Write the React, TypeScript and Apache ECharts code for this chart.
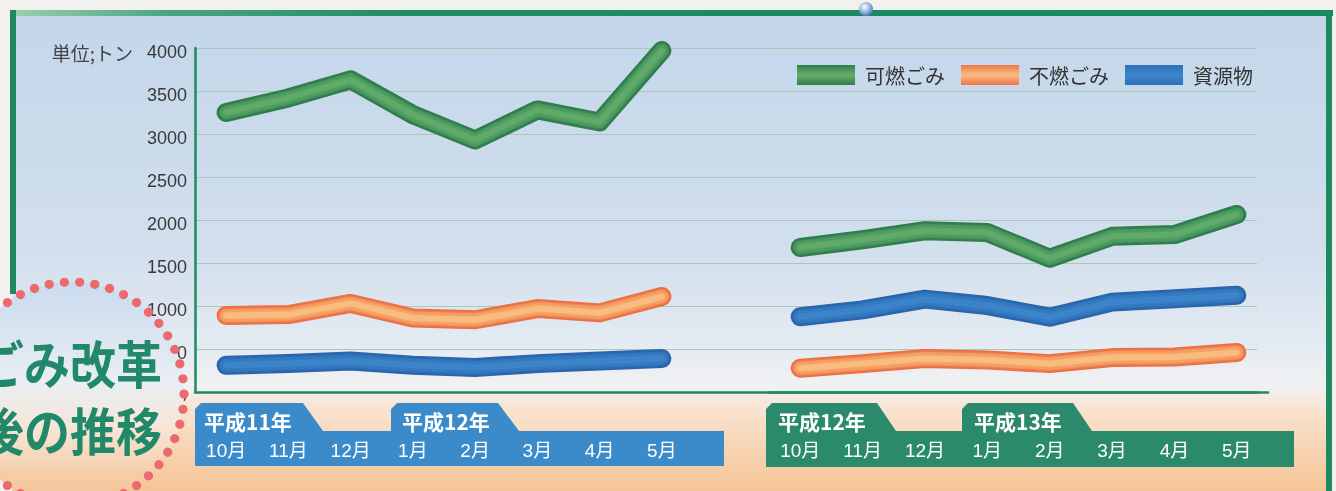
import React, { useEffect, useRef } from 'react';
import * as echarts from 'echarts';

// ---------- data ----------
const months = ['10月', '11月', '12月', '1月', '2月', '3月', '4月', '5月'];
const yearsBefore = ['平成11年', '平成12年'];
const yearsAfter = ['平成12年', '平成13年'];
const seriesNames = ['可燃ごみ', '不燃ごみ', '資源物'];
const unitLabel = '単位;トン';
const titleLines = ['ごみ改革', '後の推移'];

// 平成11年10月〜平成12年5月 (トン)
const burnableBefore = [3250, 3420, 3630, 3225, 2930, 3280, 3140, 3970];
const nonBurnableBefore = [890, 900, 1030, 860, 840, 970, 920, 1110];
const resourcesBefore = [310, 330, 360, 310, 285, 330, 360, 390];
// 平成12年10月〜平成13年5月 (トン)
const burnableAfter = [1680, 1770, 1875, 1855, 1555, 1810, 1830, 2065];
const nonBurnableAfter = [277, 330, 390, 372, 330, 400, 407, 460];
const resourcesAfter = [875, 955, 1080, 1005, 870, 1045, 1085, 1125];

const Y_MIN = 0;
const Y_MAX = 4000;
const Y_INTERVAL = 500;

// ---------- styles ----------
const tube: Record<string, string[]> = {
  '可燃ごみ': ['#2c7a4b', '#4a985d', '#62ab6b'],
  '不燃ごみ': ['#ec6c42', '#f4975f', '#f9c07f'],
  '資源物': ['#2a63aa', '#3276bd', '#3d86ca'],
};
const GREEN = '#1f8a62';
const LATIN = 'Liberation Sans, Noto Sans CJK JP, sans-serif';
const CJK = 'Noto Sans CJK JP, sans-serif';

const vGrad = (stops: [number, string][]) =>
  new echarts.graphic.LinearGradient(0, 0, 0, 1, stops.map(([offset, color]) => ({ offset, color })));

function tubeSeries(name: string, data: number[], axis: number) {
  const [edge, mid, light] = tube[name];
  const layers = [
    { n: name, w: 19, c: edge, z: 2, o: 1, b: 0 },
    { n: name + '_mid', w: 13, c: mid, z: 3, o: 1, b: 3 },
    { n: name + '_hl', w: 6, c: light, z: 4, o: 0.8, b: 4 },
  ];
  return layers.map((l) => ({
    type: 'line',
    name: l.n,
    xAxisIndex: axis,
    yAxisIndex: axis,
    data,
    z: l.z,
    symbol: 'none',
    silent: true,
    itemStyle: { color: edge },
    lineStyle: {
      width: l.w, color: l.c, opacity: l.o, cap: 'round', join: 'round',
      shadowBlur: l.b, shadowColor: l.b ? l.c : 'transparent',
    },
    emphasis: { disabled: true },
  }));
}

function buildOption() {
  const series: any[] = [
    ...tubeSeries(seriesNames[0], burnableBefore, 1),
    ...tubeSeries(seriesNames[1], nonBurnableBefore, 1),
    ...tubeSeries(seriesNames[2], resourcesBefore, 1),
    ...tubeSeries(seriesNames[0], burnableAfter, 2),
    ...tubeSeries(seriesNames[2], resourcesAfter, 2),
    ...tubeSeries(seriesNames[1], nonBurnableAfter, 2),
  ];

  const legendSwatch: Record<string, any> = {
    '可燃ごみ': vGrad([[0, '#2c8048'], [0.5, '#6aac6c'], [1, '#2c8048']]),
    '不燃ごみ': vGrad([[0, '#ef7448'], [0.5, '#f9bf82'], [1, '#ef7448']]),
    '資源物': vGrad([[0, '#2d6fb8'], [0.5, '#3f86c9'], [1, '#2d6fb8']]),
  };

  const monthAxis = (grid: number) => ({
    type: 'category',
    gridIndex: grid,
    data: months,
    boundaryGap: true,
    z: 10,
    axisLine: { show: grid === 2, lineStyle: { color: GREEN, width: 2.5 } },
    axisTick: { show: false },
    splitLine: { show: false },
    axisLabel: {
      color: '#ffffff',
      fontSize: 19,
      fontFamily: LATIN,
      margin: 58,
      verticalAlign: 'middle',
      interval: 0,
    },
  });

  // decorative circle dots
  const cx = 72, cy = 394, r = 112;
  const dots: any[] = [];
  const nDots = 46;
  for (let i = 0; i < nDots; i++) {
    const a = (i / nDots) * Math.PI * 2;
    dots.push({
      type: 'circle',
      shape: { cx: cx + r * Math.cos(a), cy: cy + r * Math.sin(a), r: 4.6 },
      style: { fill: '#eb6a6e' },
      z: 52,
      silent: true,
    });
  }

  const graphic: any[] = [
    { type: 'rect', shape: { x: 0, y: 0, width: 1336, height: 491 }, style: { fill: '#f3f1ee' }, z: -100, silent: true },
    {
      type: 'rect', shape: { x: 12, y: 12, width: 1318, height: 479 }, z: -99, silent: true,
      style: {
        fill: vGrad([
          [0, '#c3d6ea'], [0.5, '#d2dfed'], [0.7, '#e4ebf2'], [0.78, '#f1f1f2'],
          [0.83, '#f9e3d0'], [0.92, '#f7d2b0'], [1, '#f5c597'],
        ]),
      },
    },
    {
      type: 'rect', shape: { x: 10, y: 10, width: 1323, height: 6 }, z: 1, silent: true,
      style: {
        fill: new echarts.graphic.LinearGradient(0, 0, 1, 0, [
          { offset: 0, color: '#9ad0b0' }, { offset: 0.12, color: '#4aa57f' },
          { offset: 0.3, color: '#1f8d63' }, { offset: 1, color: '#17885f' },
        ]),
      },
    },
    { type: 'rect', shape: { x: 10, y: 10, width: 6, height: 284 }, style: { fill: GREEN }, z: 1, silent: true },
    { type: 'rect', shape: { x: 1326, y: 10, width: 6, height: 481 }, style: { fill: GREEN }, z: 1, silent: true },
    {
      type: 'circle', shape: { cx: 866, cy: 9, r: 7 }, z: 5, silent: true,
      style: {
        fill: new echarts.graphic.RadialGradient(0.4, 0.35, 0.7, [
          { offset: 0, color: '#ffffff' }, { offset: 0.5, color: '#9bbbe0' }, { offset: 1, color: '#3f72b5' },
        ]),
      },
    },
    // month label boxes
    {
      type: 'polygon', z: -1, silent: true,
      shape: { points: [[195, 466], [195, 409], [201, 403], [303, 403], [323, 431], [391, 431], [391, 409], [397, 403], [498, 403], [519, 431], [724, 431], [724, 466]] },
      style: { fill: '#3b8bca' },
    },
    {
      type: 'polygon', z: -1, silent: true,
      shape: { points: [[766, 467], [766, 409], [772, 403], [877, 403], [896, 431], [962, 431], [962, 409], [968, 403], [1073, 403], [1092, 431], [1294, 431], [1294, 467]] },
      style: { fill: '#2a8a6b' },
    },
    ...[[yearsBefore[0], 204], [yearsBefore[1], 402], [yearsAfter[0], 778], [yearsAfter[1], 974]].map(([t, x]) => ({
      type: 'text', x, y: 421, z: 3, silent: true,
      style: { text: t, fill: '#ffffff', font: `bold 21px ${CJK}`, align: 'left', verticalAlign: 'middle' },
    })),
    // title circle
    {
      type: 'circle', shape: { cx, cy, r }, z: 50, silent: true,
      style: {
        fill: vGrad([[0, '#c9dbee'], [0.45, '#e9eef4'], [0.65, '#f6e6d8'], [0.9, '#f4c99f'], [1, '#f3c295']]),
      },
    },
    ...dots,
    ...titleLines.map((t, i) => ({
      type: 'text', x: 162, y: i === 0 ? 361 : 428, scaleY: 1.12, z: 53, silent: true,
      style: { text: t, fill: '#22886a', font: `bold 46px ${CJK}`, align: 'right', verticalAlign: 'middle' },
    })),
  ];

  return {
    animation: false,
    grid: [
      { left: 195, top: 48, width: 1062, height: 344 },
      { left: 195, top: 48, width: 498, height: 344 },
      { left: 769, top: 48, width: 499, height: 344 },
    ],
    xAxis: [
      {
        type: 'value', gridIndex: 0, min: 0, max: 1,
        axisLine: { show: true, lineStyle: { color: GREEN, width: 2.5 } },
        axisTick: { show: false }, axisLabel: { show: false }, splitLine: { show: false },
      },
      monthAxis(1),
      monthAxis(2),
    ],
    yAxis: [
      {
        type: 'value', gridIndex: 0, min: Y_MIN, max: Y_MAX, interval: Y_INTERVAL,
        axisLine: { show: true, lineStyle: { color: GREEN, width: 2.5 } },
        axisTick: { show: false },
        splitLine: { show: true, lineStyle: { color: '#a9c8b6', width: 1 } },
        axisLabel: {
          margin: 8,
          color: '#3a3a3a',
          fontSize: 18,
          fontFamily: LATIN,
          padding: [8, 0, 0, 0],
          formatter: (v: number) => (v === Y_MAX ? `{u|${unitLabel}}{n|${v}}` : `{n|${v}}`),
          rich: {
            u: { fontFamily: CJK, fontSize: 19, color: '#444444', padding: [0, 14, 0, 0] },
            n: { fontFamily: LATIN, fontSize: 18, color: '#3a3a3a' },
          },
        },
      },
      { type: 'value', gridIndex: 1, min: Y_MIN, max: Y_MAX, show: false },
      { type: 'value', gridIndex: 2, min: Y_MIN, max: Y_MAX, show: false },
    ],
    legend: {
      left: 792,
      top: 60,
      itemWidth: 58,
      itemHeight: 20,
      itemGap: 16,
      icon: 'rect',
      selectedMode: false,
      itemStyle: { borderWidth: 0 },
      textStyle: { fontSize: 20, color: '#333333', fontFamily: CJK, padding: [0, 0, 0, 5] },
      data: seriesNames.map((n) => ({ name: n, icon: 'rect', itemStyle: { color: legendSwatch[n], borderWidth: 0 } })),
    },
    series,
    graphic,
  };
}

export default function App() {
  const ref = useRef<HTMLDivElement>(null);
  useEffect(() => {
    if (!ref.current) return;
    const chart = echarts.init(ref.current, undefined, { renderer: 'svg' });
    chart.setOption(buildOption() as any);
    return () => chart.dispose();
  }, []);
  return <div ref={ref} style={{ position: 'fixed', left: 0, top: 0, width: 1336, height: 491 }} />;
}
